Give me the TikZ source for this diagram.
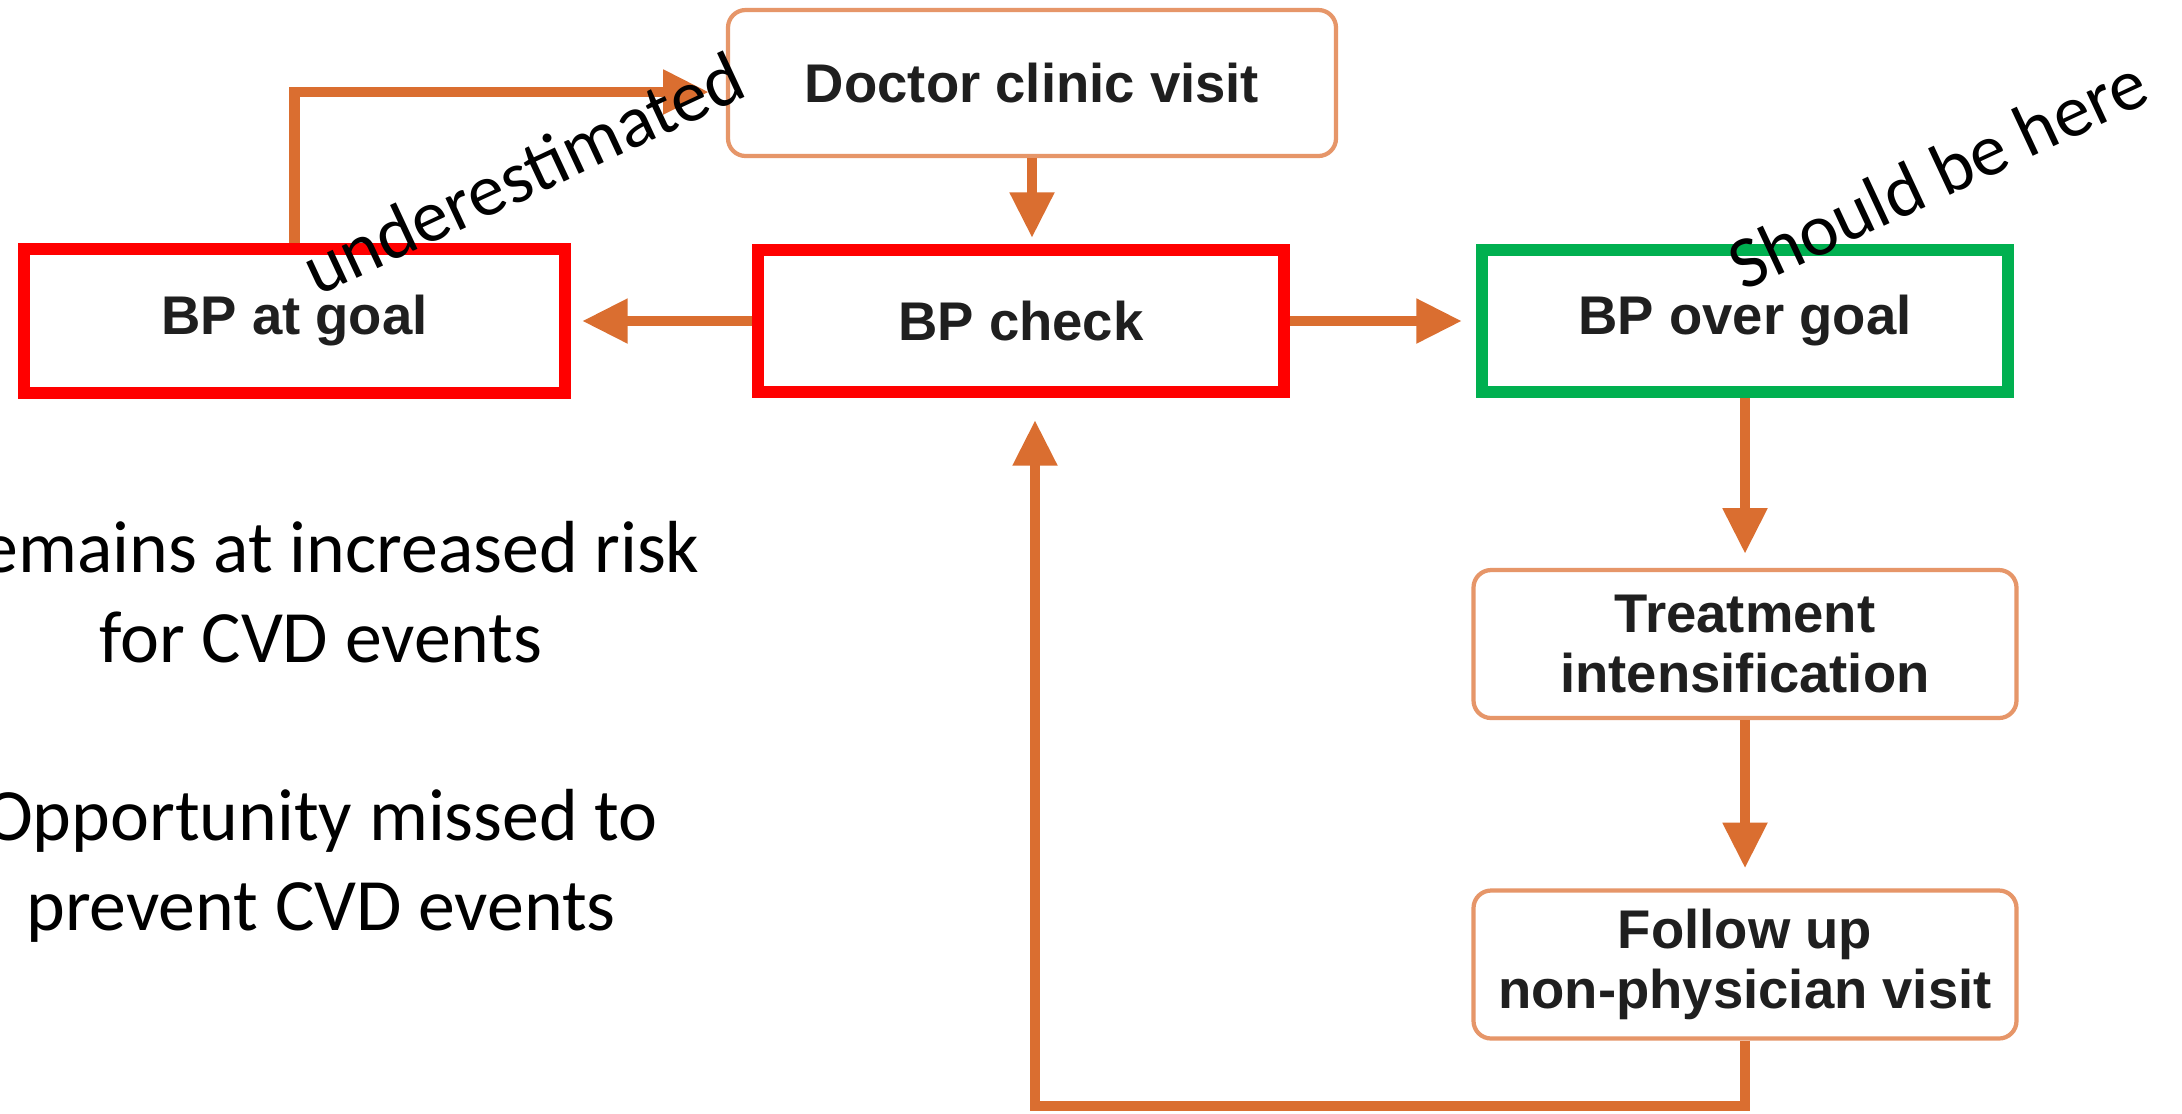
\documentclass[tikz,border=0pt]{standalone}
\usepackage{fontspec}
\setmainfont{Liberation Sans}
\newfontfamily\calibri{Carlito}
\usetikzlibrary{arrows.meta}

\definecolor{arrowc}{RGB}{218,110,48}
\definecolor{boxline}{RGB}{230,150,105}
\definecolor{alarm}{RGB}{255,0,0}
\definecolor{okgreen}{RGB}{0,176,80}

\begin{document}
\begin{tikzpicture}[>={Triangle[length=13pt,width=12pt]},
   box/.style={draw=boxline,line width=1.2pt,rounded corners=5pt,align=center,
     inner sep=0pt,text=black!88,font=\fontsize{15.5}{17}\selectfont\bfseries},
   redbox/.style={box,draw=alarm,line width=3.4pt,rounded corners=0pt,
     minimum width=5.26cm,minimum height=1.42cm},
   greenbox/.style={redbox,draw=okgreen},
   link/.style={->,color=arrowc,line width=3pt},
   remark/.style={font=\calibri\fontsize{21}{25.6}\selectfont,align=center,inner sep=0pt}]
   \fill[white] (0,0) rectangle (21.82,-11.13);
   \useasboundingbox (0,0) rectangle (21.82,-11.13);

   \node[redbox]   (check)  at (10.21,-3.21)                                     {BP check};
   \node[redbox,minimum width=5.41cm,minimum height=1.44cm]
                   (goal)   [node distance=7.265cm,left of=check]               {BP at goal};
   \node[greenbox] (over)   [node distance=7.24cm,right of=check]               {BP over goal};
   \node[box,minimum width=6.08cm,minimum height=1.46cm]
                   (doctor) [node distance=2.38cm,above of=check,xshift=0.11cm] {Doctor clinic visit};
   \node[box,minimum width=5.43cm,minimum height=1.48cm]
                   (treat)  [node distance=3.23cm,below of=over]                {Treatment\\intensification};
   \node[box,minimum width=5.43cm,minimum height=1.48cm]
                   (follow) [node distance=3.205cm,below of=treat]              {Follow up\\non-physician visit};
   \coordinate (back) at (10.35,-11.06);

   \path[link] (doctor.south) edge [shorten >=0.06cm] (doctor.south |- check.north)
               (check.west)   edge [shorten >=0.11cm] (check.west -| goal.east)
               (check.east)   edge [shorten >=0.14cm] (check.east -| over.west)
               (over)         edge [shorten >=0.14cm] (treat)
               (treat)        edge [shorten >=0.2cm]  (follow);
   \draw[link,shorten >=0.17cm] (goal.north) |- ([yshift=-0.09cm]doctor.west);
   \draw[link,shorten >=0.22cm] (follow.south) |- (back) -- (back |- check.south);

   \node[remark,anchor=base] (risk)   at (3.21,-6.62) {Remains at increased risk\\for CVD events};
   \node[remark,anchor=base] (missed) at (3.21,-9.30) {Opportunity missed to\\prevent CVD events};
   \node[remark,anchor=base west,rotate=25] (under) at (3.17,-2.97)  {underestimated};
   \node[remark,anchor=base west,rotate=25] (here)  at (17.43,-2.92) {Should be here};
\end{tikzpicture}
\end{document}
